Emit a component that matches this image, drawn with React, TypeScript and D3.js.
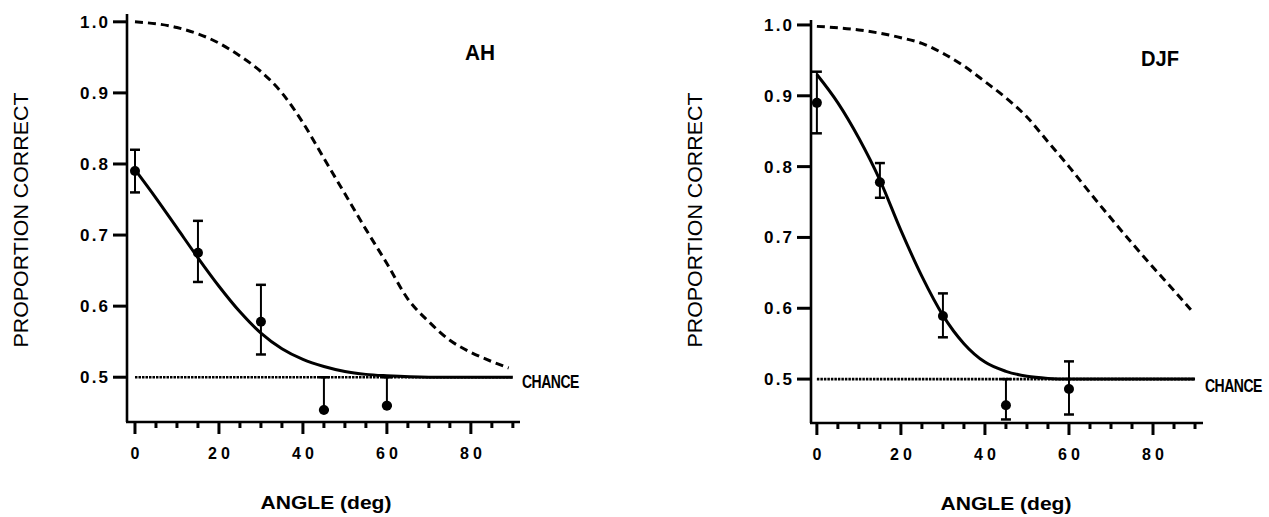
import { useEffect, useRef } from "react";
import * as d3 from "d3";

// observed angles (deg)
const angles = [0, 15, 30, 45, 60];

// subject AH
const ahMean = [0.79, 0.675, 0.578, 0.454, 0.46];
const ahLo = [0.76, 0.634, 0.532, 0.454, 0.46];
const ahHi = [0.82, 0.72, 0.63, 0.5, 0.5];

// subject DJF
const djfMean = [0.89, 0.778, 0.589, 0.463, 0.486];
const djfLo = [0.847, 0.756, 0.559, 0.443, 0.45];
const djfHi = [0.934, 0.805, 0.621, 0.5, 0.525];

// fitted curves
const fitAngles = [0, 5, 10, 15, 20, 25, 30, 35, 40, 45, 50, 55, 60, 70, 80, 90];
const ahFit = [0.792, 0.752, 0.71, 0.668, 0.628, 0.592, 0.562, 0.54, 0.525, 0.515, 0.508, 0.504, 0.502, 0.5, 0.5, 0.5];
const djfFit = [0.93, 0.89, 0.84, 0.781, 0.71, 0.645, 0.59, 0.55, 0.524, 0.511, 0.504, 0.501, 0.5, 0.5, 0.5, 0.5];

// ideal predictions (dashed)
const idealAngles = [0, 10, 20, 25, 30, 35, 40, 45, 50, 55, 60, 65, 70, 75, 80, 85, 89];
const ahIdeal = [1.0, 0.992, 0.97, 0.952, 0.93, 0.9, 0.858, 0.808, 0.758, 0.708, 0.66, 0.61, 0.578, 0.552, 0.535, 0.522, 0.513];
const djfIdeal = [0.998, 0.993, 0.982, 0.974, 0.96, 0.942, 0.92, 0.897, 0.87, 0.835, 0.8, 0.763, 0.727, 0.692, 0.658, 0.625, 0.598];

const chance = 0.5;
const xMajor = [0, 20, 40, 60, 80];
const xMinor = [5, 10, 15, 25, 30, 35, 45, 50, 55, 65, 70, 75, 85, 90];
const yTicks = [0.5, 0.6, 0.7, 0.8, 0.9, 1.0];

const FONT = "'Liberation Sans', Arial, Helvetica, sans-serif";

interface PanelProps {
  name: string;
  mean: number[];
  lo: number[];
  hi: number[];
  fit: number[];
  ideal: number[];
  left: number;
  right: number;
  top: number;
  bottom: number;
  xDomain: [number, number];
  yDomain: [number, number];
  titleX: number;
  titleY: number;
  titleW: number;
  xLabelX: number;
  yLabelX: number;
  chanceDy: number;
}

const Panel = (p: PanelProps) => {
  const gRef = useRef<SVGGElement>(null);

  useEffect(() => {
    if (!gRef.current) return;
    const g = d3.select(gRef.current);
    g.selectAll("*").remove();

    const x = d3.scaleLinear().domain(p.xDomain).range([p.left, p.right]);
    const y = d3.scaleLinear().domain(p.yDomain).range([p.bottom, p.top]);

    // axes lines
    g.append("line")
      .attr("x1", p.left).attr("x2", p.left)
      .attr("y1", p.top).attr("y2", p.bottom)
      .attr("stroke", "#000").attr("stroke-width", 2.6);
    g.append("line")
      .attr("x1", p.left - 1).attr("x2", p.right)
      .attr("y1", p.bottom).attr("y2", p.bottom)
      .attr("stroke", "#000").attr("stroke-width", 2.6);

    // x ticks
    g.selectAll("line.xmaj")
      .data(xMajor)
      .join("line")
      .attr("class", "xmaj")
      .attr("x1", (d) => x(d)).attr("x2", (d) => x(d))
      .attr("y1", p.bottom).attr("y2", p.bottom + 12)
      .attr("stroke", "#000").attr("stroke-width", 3);
    g.selectAll("line.xmin")
      .data(xMinor)
      .join("line")
      .attr("class", "xmin")
      .attr("x1", (d) => x(d)).attr("x2", (d) => x(d))
      .attr("y1", p.bottom).attr("y2", p.bottom + 6)
      .attr("stroke", "#000").attr("stroke-width", 3);
    g.selectAll("text.xlab")
      .data(xMajor)
      .join("text")
      .attr("class", "xlab")
      .attr("x", (d) => x(d))
      .attr("y", p.bottom + 37)
      .attr("text-anchor", "middle")
      .attr("font-family", FONT)
      .attr("font-weight", "bold")
      .attr("font-size", 16)
      .each(function (d) {
        if (String(d).length > 1) {
          d3.select(this).attr("textLength", 22).attr("lengthAdjust", "spacing");
        }
      })
      .text((d) => d);

    // y ticks
    g.selectAll("line.ytick")
      .data(yTicks)
      .join("line")
      .attr("class", "ytick")
      .attr("x1", p.left - 14).attr("x2", p.left)
      .attr("y1", (d) => y(d)).attr("y2", (d) => y(d))
      .attr("stroke", "#000").attr("stroke-width", 3);
    g.selectAll("text.ylab")
      .data(yTicks)
      .join("text")
      .attr("class", "ylab")
      .attr("x", p.left - 47)
      .attr("y", (d) => y(d) + 6)
      .attr("font-family", FONT)
      .attr("font-weight", "bold")
      .attr("font-size", 17)
      .attr("textLength", 28)
      .attr("lengthAdjust", "spacing")
      .text((d) => d.toFixed(1));

    // chance line
    g.append("line")
      .attr("x1", x(0)).attr("x2", x(90))
      .attr("y1", y(chance)).attr("y2", y(chance))
      .attr("stroke", "#000").attr("stroke-width", 2.6)
      .attr("stroke-dasharray", "2.5,1");

    // ideal curve
    const idealLine = d3
      .line<number>()
      .x((_, i) => x(idealAngles[i]))
      .y((d) => y(d))
      .curve(d3.curveMonotoneX);
    g.append("path")
      .attr("d", idealLine(p.ideal))
      .attr("fill", "none")
      .attr("stroke", "#000")
      .attr("stroke-width", 3)
      .attr("stroke-dasharray", "8,5");

    // fitted curve
    const fitLine = d3
      .line<number>()
      .x((_, i) => x(fitAngles[i]))
      .y((d) => y(d))
      .curve(d3.curveMonotoneX);
    g.append("path")
      .attr("d", fitLine(p.fit))
      .attr("fill", "none")
      .attr("stroke", "#000")
      .attr("stroke-width", 3);

    // error bars
    const bars = g.selectAll("g.bar").data(angles).join("g").attr("class", "bar");
    bars.append("line")
      .attr("x1", (d) => x(d)).attr("x2", (d) => x(d))
      .attr("y1", (_, i) => y(p.lo[i])).attr("y2", (_, i) => y(p.hi[i]))
      .attr("stroke", "#000").attr("stroke-width", 2);
    bars.append("line")
      .attr("x1", (d) => x(d) - 5).attr("x2", (d) => x(d) + 5)
      .attr("y1", (_, i) => y(p.hi[i])).attr("y2", (_, i) => y(p.hi[i]))
      .attr("stroke", "#000").attr("stroke-width", 2.5);
    bars.append("line")
      .attr("x1", (d) => x(d) - 5).attr("x2", (d) => x(d) + 5)
      .attr("y1", (_, i) => y(p.lo[i])).attr("y2", (_, i) => y(p.lo[i]))
      .attr("stroke", "#000").attr("stroke-width", 2.5);

    // data points
    g.selectAll("circle")
      .data(angles)
      .join("circle")
      .attr("cx", (d) => x(d))
      .attr("cy", (_, i) => y(p.mean[i]))
      .attr("r", 5)
      .attr("fill", "#000");

    // labels
    g.append("text")
      .attr("x", p.titleX)
      .attr("y", p.titleY)
      .attr("text-anchor", "middle")
      .attr("font-family", FONT)
      .attr("font-weight", "bold")
      .attr("font-size", 22)
      .attr("textLength", p.titleW)
      .attr("lengthAdjust", "spacingAndGlyphs")
      .text(p.name);

    // narrow, tall "CHANCE" tag
    g.append("text")
      .attr("transform", `translate(${p.right + 2},${y(chance) + p.chanceDy}) scale(1,1.3)`)
      .attr("font-family", FONT)
      .attr("font-weight", "bold")
      .attr("font-size", 14)
      .attr("letter-spacing", -0.5)
      .text("CHANCE");

    g.append("text")
      .attr("x", p.xLabelX)
      .attr("y", p.bottom + 87)
      .attr("text-anchor", "middle")
      .attr("font-family", FONT)
      .attr("font-weight", "bold")
      .attr("font-size", 18)
      .attr("textLength", 131)
      .attr("lengthAdjust", "spacingAndGlyphs")
      .text("ANGLE  (deg)");

    g.append("text")
      .attr("transform", `translate(${p.yLabelX},220) rotate(-90)`)
      .attr("text-anchor", "middle")
      .attr("font-family", FONT)
      .attr("font-size", 20)
      .attr("textLength", 255)
      .attr("lengthAdjust", "spacingAndGlyphs")
      .text("PROPORTION  CORRECT");
  }, [p]);

  return <g ref={gRef} />;
};

export default function App() {
  return (
    <svg
      width={1269}
      height={517}
      style={{ position: "absolute", left: 0, top: 0, background: "#fff" }}
    >
      <Panel
        name="AH"
        mean={ahMean}
        lo={ahLo}
        hi={ahHi}
        fit={ahFit}
        ideal={ahIdeal}
        left={127}
        right={520}
        top={14}
        bottom={422}
        xDomain={[-1.9, 91.7]}
        yDomain={[0.437, 1.011]}
        titleX={480}
        titleY={60}
        titleW={30}
        xLabelX={326}
        yLabelX={28}
        chanceDy={11}
      />
      <Panel
        name="DJF"
        mean={djfMean}
        lo={djfLo}
        hi={djfHi}
        fit={djfFit}
        ideal={djfIdeal}
        left={811}
        right={1203}
        top={20}
        bottom={423}
        xDomain={[-1.4, 91.9]}
        yDomain={[0.438, 1.007]}
        titleX={1160}
        titleY={66}
        titleW={38}
        xLabelX={1006}
        yLabelX={702}
        chanceDy={13}
      />
    </svg>
  );
}
